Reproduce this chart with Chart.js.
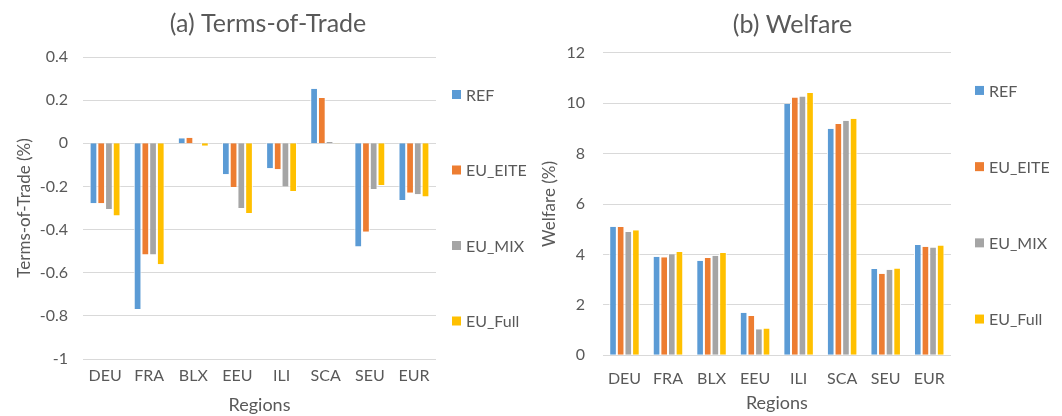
<!DOCTYPE html>
<html>
<head>
<meta charset="utf-8">
<script src="https://cdn.jsdelivr.net/npm/chart.js@4/dist/chart.umd.min.js"></script>
<style>
  html, body { margin: 0; padding: 0; background: #ffffff; }
  #wrap { position: relative; width: 1062px; height: 416px; overflow: hidden; }
  #c1 { position: absolute; left: 0; top: 0; }
  #c2 { position: absolute; left: 530px; top: 0; }
</style>
</head>
<body>
<div id="wrap">
  <canvas id="c1" width="530" height="416"></canvas>
  <canvas id="c2" width="532" height="416"></canvas>
</div>
<script>
// ---- Data ----
const categories = ['DEU', 'FRA', 'BLX', 'EEU', 'ILI', 'SCA', 'SEU', 'EUR'];
const seriesNames = ['REF', 'EU_EITE', 'EU_MIX', 'EU_Full'];
const seriesColors = ['#5B9BD5', '#ED7D31', '#A5A5A5', '#FFC000'];

// (a) Terms-of-Trade (%)
const totREF  = [-0.278, -0.768,  0.023, -0.144, -0.116, 0.253, -0.479, -0.263];
const totEITE = [-0.278, -0.515,  0.026, -0.203, -0.120, 0.210, -0.410, -0.229];
const totMIX  = [-0.305, -0.515,  0.000, -0.300, -0.200, 0.006, -0.212, -0.236];
const totFull = [-0.335, -0.561, -0.012, -0.323, -0.221, 0.001, -0.193, -0.247];

// (b) Welfare (%)
const welREF  = [5.10, 3.91, 3.75, 1.69,  9.97, 8.98, 3.42, 4.37];
const welEITE = [5.09, 3.89, 3.86, 1.56, 10.22, 9.17, 3.23, 4.30];
const welMIX  = [4.89, 4.01, 3.95, 1.03, 10.26, 9.30, 3.39, 4.27];
const welFull = [4.96, 4.10, 4.06, 1.06, 10.40, 9.38, 3.44, 4.35];

const totAxis = { min: -1, max: 0.4, step: 0.2 };
const welAxis = { min: 0, max: 12, step: 2 };

// ---- Style ----
const FONT = 'Lato, "Open Sans", sans-serif';
const TXT = '#595959';
const GRID = '#D9D9D9';

// Side legend: Excel-style, items spread vertically around the plot centre
const sideLegend = {
  id: 'sideLegend',
  afterDraw(chart, args, opts) {
    const { ctx, chartArea } = chart;
    const ds = chart.data.datasets;
    const n = ds.length;
    const cy = (chartArea.top + chartArea.bottom) / 2 + opts.dy;
    const x = chartArea.right + opts.offset;
    ctx.save();
    ctx.font = '16px ' + FONT;
    ctx.textBaseline = 'middle';
    ctx.textAlign = 'left';
    ds.forEach((d, i) => {
      const y = cy + (i - (n - 1) / 2) * opts.spacing;
      ctx.fillStyle = d.backgroundColor;
      ctx.fillRect(x, y - 4.5, 9, 9);
      ctx.fillStyle = TXT;
      ctx.fillText(d.label, x + 14, y + 1);
    });
    ctx.restore();
  }
};

function makeChart(id, title, yTitle, seriesData, axis, o) {
  const datasets = seriesNames.map((name, i) => ({
    label: name,
    data: seriesData[i],
    backgroundColor: seriesColors[i],
    borderColor: '#ffffff',
    borderWidth: { left: 1, right: 1, top: 0, bottom: 0 },
    borderSkipped: false,
    categoryPercentage: 0.70,
    barPercentage: 1.0,
    yAxisID: 'y'
  }));
  return new Chart(document.getElementById(id), {
    type: 'bar',
    data: { labels: categories, datasets },
    plugins: [sideLegend],
    options: {
      responsive: false,
      animation: false,
      layout: { padding: o.padding },
      plugins: {
        title: {
          display: true,
          text: title,
          color: TXT,
          font: { family: FONT, size: 25, weight: 'normal' },
          padding: { top: o.titleTop, bottom: o.titleBottom }
        },
        legend: { display: false },
        tooltip: { enabled: false },
        sideLegend: o.legend
      },
      scales: {
        x: {
          grid: { display: false, drawTicks: false },
          border: { display: false },
          ticks: {
            color: TXT, font: { family: FONT, size: 16 },
            padding: o.xTickPad, maxRotation: 0, minRotation: 0, autoSkip: false
          },
          title: {
            display: true, text: 'Regions', color: TXT,
            font: { family: FONT, size: 18 }, padding: o.xTitlePad
          },
          afterFit: (s) => { s.height = o.xHeight; }
        },
        y: {
          position: 'left',
          min: axis.min,
          max: axis.max,
          grid: { color: GRID, lineWidth: 1, drawTicks: false },
          border: { display: false },
          ticks: {
            stepSize: axis.step, color: TXT,
            font: { family: FONT, size: 16 }, padding: o.yTickPad,
            callback: (v) => String(Math.round(v * 10) / 10)
          },
          title: {
            display: true, text: yTitle, color: TXT,
            font: { family: FONT, size: 17 }, padding: o.yTitlePad
          },
          afterFit: (s) => { s.width = o.yWidth; }
        },
        // empty right-hand band that leaves room for the side legend
        legendBand: {
          position: 'right',
          min: axis.min,
          max: axis.max,
          grid: { display: false, drawTicks: false },
          border: { display: false },
          ticks: { display: false },
          afterFit: (s) => { s.width = o.legendBand; }
        }
      }
    }
  });
}

makeChart('c1', '(a) Terms-of-Trade', 'Terms-of-Trade (%)',
  [totREF, totEITE, totMIX, totFull], totAxis,
  {
    padding: { left: 6, right: 0, top: 0, bottom: 0 },
    titleTop: 9, titleBottom: 18,
    xTickPad: 7, xTitlePad: { top: 4, bottom: 0.2 }, xHeight: 57,
    yTickPad: 15, yTitlePad: { top: 8.7, bottom: 4 }, yWidth: 77,
    legendBand: 94,
    legend: { offset: 16, spacing: 75.5, dy: -0.25 }
  });

makeChart('c2', '(b) Welfare', 'Welfare (%)',
  [welREF, welEITE, welMIX, welFull], welAxis,
  {
    padding: { left: 4, right: 11, top: 0, bottom: 0 },
    titleTop: 9.5, titleBottom: 13.2,
    xTickPad: 14.1, xTitlePad: { top: 4, bottom: 2.5 }, xHeight: 60.7,
    yTickPad: 17.7, yTitlePad: { top: 5.7, bottom: 4 }, yWidth: 68.7,
    legendBand: 100,
    legend: { offset: 24, spacing: 76.2, dy: 0.75 }
  });
</script>
</body>
</html>
